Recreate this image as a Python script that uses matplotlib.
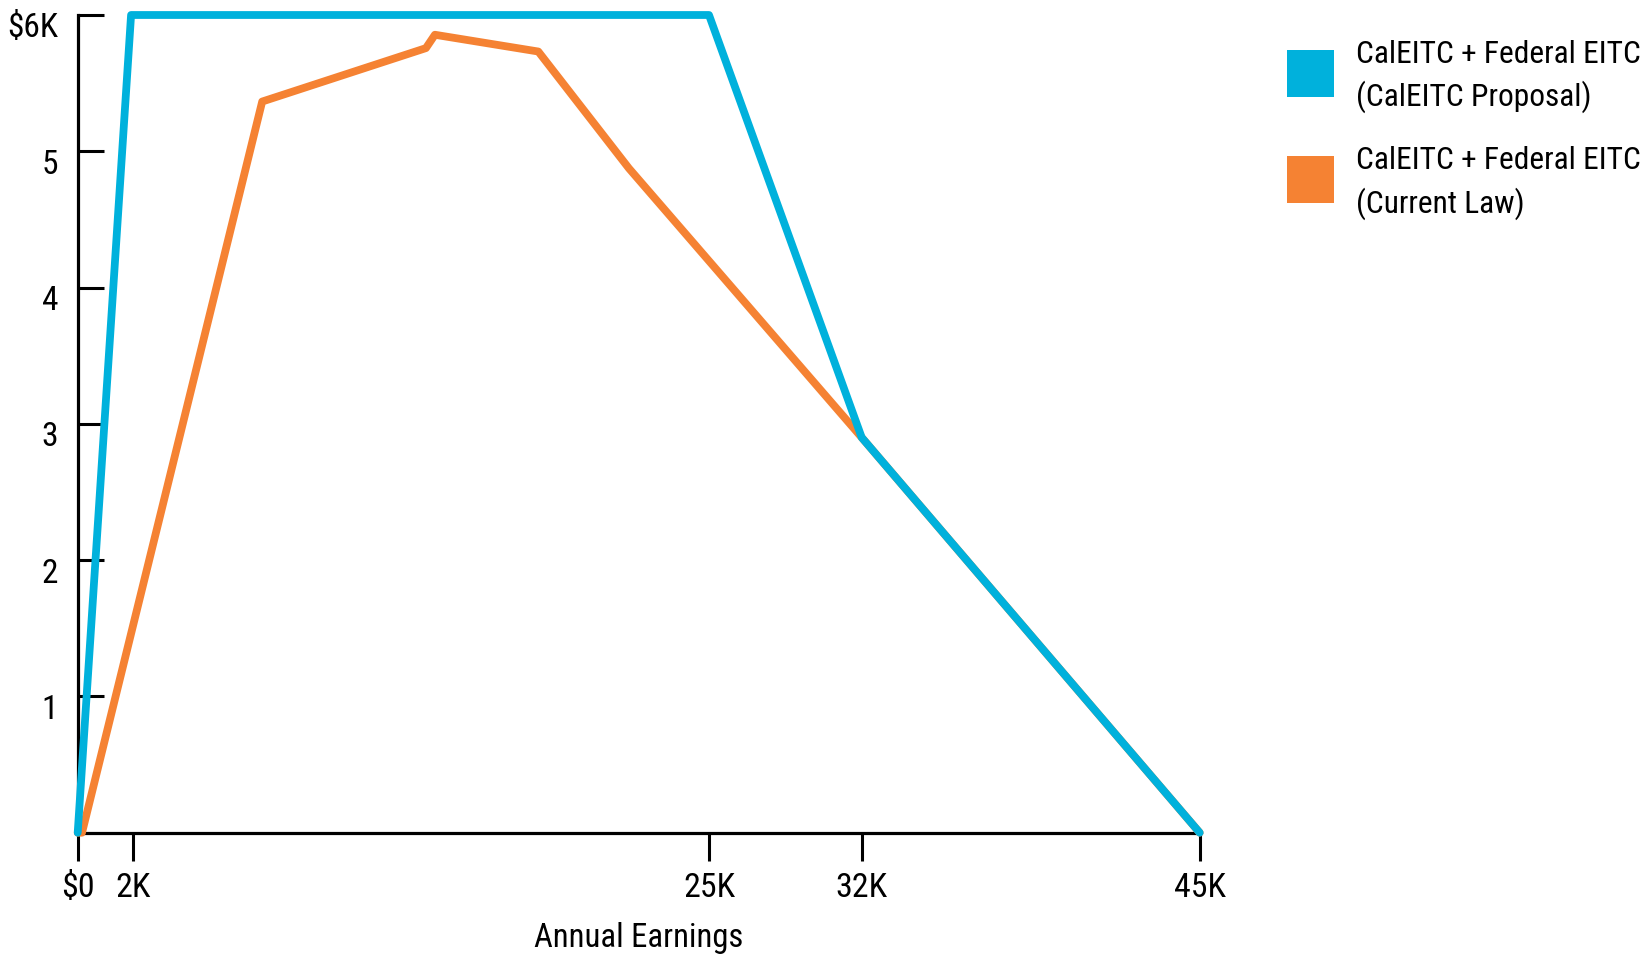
import numpy as np
import matplotlib
matplotlib.use("Agg")
import matplotlib.pyplot as plt
from matplotlib import font_manager as fm
from matplotlib.patches import Patch
from matplotlib.transforms import ScaledTranslation

# ---------------- data (earnings in $K, credit in $K) ----------------
x_ticks = [0, 2, 25, 32, 45]
x_tick_labels = ["$0", "2K", "25K", "32K", "45K"]
y_ticks = [1, 2, 3, 4, 5, 6]
y_tick_labels = ["1", "2", "3", "4", "5", "$6K"]

proposal_x = [0, 1.92, 25, 32, 45]
proposal_y = [0, 6.0, 6.0, 2.9, 0]

current_x = [0, 0.155, 7.15, 13.69, 14.05, 18.18, 21.8, 32, 45]
current_y = [0, 0.0, 5.365, 5.757, 5.855, 5.732, 4.875, 2.9, 0]

series_labels = ["CalEITC + Federal EITC\n(CalEITC Proposal)",
                 "CalEITC + Federal EITC\n(Current Law)"]
x_label = "Annual Earnings"

# ---------------- style ----------------
BLUE = "#00B1DC"
ORANGE = "#F58233"

avail = {f.name for f in fm.fontManager.ttflist}
FONT = "DejaVu Sans"
for cand in ["Liberation Sans Narrow", "Roboto Condensed", "Open Sans Condensed",
             "Liberation Sans", "DejaVu Sans"]:
    if cand in avail:
        FONT = cand
        break
plt.rcParams["font.family"] = [FONT, "DejaVu Sans"]

# The original axis is drawn with uneven spacing between its labelled stops;
# reproduce it with a piecewise-linear function scale through the tick values.
SCALE_POS = [0, 55.6, 631.3, 784.0, 1122.0]


def fwd(v):
    return np.interp(v, x_ticks, SCALE_POS)


def inv(v):
    return np.interp(v, SCALE_POS, x_ticks)


fig = plt.figure(figsize=(16.52, 9.57), dpi=100)
ax = fig.add_axes([77.7 / 1652, 1 - 832.7 / 957, (1199.7 - 77.7) / 1652,
                   (832.7 - 15) / 957])
ax.set_xscale("function", functions=(fwd, inv))

ax.plot(current_x, current_y, color=ORANGE, lw=5.6, clip_on=False, zorder=3,
        solid_capstyle="round", solid_joinstyle="round")
ax.plot(proposal_x, proposal_y, color=BLUE, lw=5.6, clip_on=False, zorder=4,
        solid_capstyle="round", solid_joinstyle="round")

ax.set_xlim(0, 45)
ax.set_ylim(0, 6)

for s in ["top", "right"]:
    ax.spines[s].set_visible(False)
for s in ["left", "bottom"]:
    ax.spines[s].set_linewidth(2.3)
    ax.spines[s].set_color("black")

ax.set_xticks(x_ticks)
ax.set_xticklabels(x_tick_labels)
ax.set_yticks(y_ticks)
ax.set_yticklabels(y_tick_labels)
ax.minorticks_off()

ax.tick_params(axis="x", direction="out", length=20, width=2.2, pad=8,
               labelsize=24.5, colors="black")
ax.tick_params(axis="y", direction="in", length=19, width=2.2, pad=14,
               labelsize=24, colors="black")

off = ScaledTranslation(0, -0.10, fig.dpi_scale_trans)
for lab in ax.get_yticklabels():
    lab.set_transform(lab.get_transform() + off)

ax.set_xlabel(x_label, fontsize=23.5, labelpad=13)

handles = [Patch(facecolor=BLUE, edgecolor="none", label=series_labels[0]),
           Patch(facecolor=ORANGE, edgecolor="none", label=series_labels[1])]
leg = fig.legend(handles=handles, loc="upper left",
                 bbox_to_anchor=(1287 / 1652, 1 - 40 / 957),
                 frameon=False, borderpad=0, borderaxespad=0,
                 handlelength=1.5, handleheight=1.93, handletextpad=0.7,
                 labelspacing=1.04, fontsize=22.6)
for t in leg.get_texts():
    t.set_linespacing(1.47)
# nudge the swatches up slightly so they sit centred on their two-line labels
for h in leg.legend_handles:
    h.set_y(h.get_y() + 3.6)

fig.savefig("out.png", dpi=100)
